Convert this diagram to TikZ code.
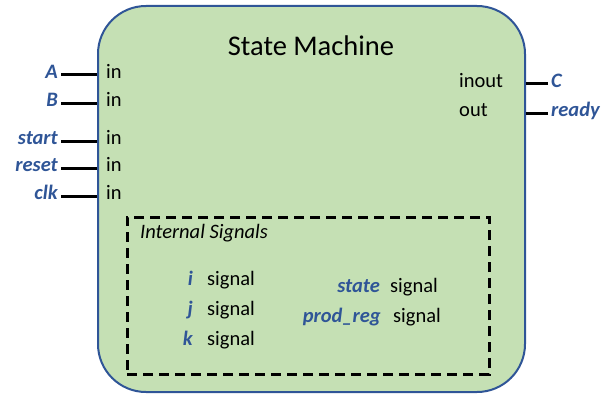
\documentclass[tikz,border=0pt]{standalone}
\usepackage{fontspec}
\setmainfont{Carlito}
\usetikzlibrary{positioning, calc}
\definecolor{smfill}{HTML}{C5E0B4}
\definecolor{smblue}{HTML}{2F5597}

\begin{document}
\begin{tikzpicture}[
  x=1pt, y=-1pt,
  machine/.style = {draw=smblue, line width=2pt, fill=smfill, rounded corners=48pt,
                    minimum width=427pt, minimum height=386pt, inner sep=0pt},
  title/.style   = {font=\fontsize{28.5}{30}\selectfont, inner sep=0pt},
  pname/.style   = {font=\fontsize{20.5}{22}\selectfont\bfseries\itshape, text=smblue,
                    text height=0.75em, text depth=0.1em, inner sep=3pt},
  pkind/.style   = {font=\fontsize{20.5}{22}\selectfont,
                    text height=0.75em, text depth=0.1em, inner sep=1pt},
  wire/.style    = {line width=3pt},
  region/.style  = {draw, line width=3pt, dash pattern=on 10pt off 6pt, inner sep=0pt},
]
\useasboundingbox (0,0) rectangle (608,396);

% ---------- entity body ----------
\node[machine] (sm) at (311.5,199) {};
\node[title]   (ttl) at (311,46) {State Machine};

% ---------- input ports ----------
\foreach \n/\y in {A/75,B/103,start/141,reset/168,clk/196}{
  \node[pname, anchor=east] (nm-\n) at (61,\y)  {\n};
  \node[pkind, anchor=west] (k-\n)  at (105,\y) {in};
  \draw[wire] (nm-\n.east) -- (nm-\n.east -| sm.west);
}

% ---------- output ports ----------
\foreach \n/\t/\y in {C/inout/84,ready/out/113}{
  \node[pname, anchor=west] (nm-\n) at (548,\y) {\n};
  \node[pkind, anchor=west] (k-\n)  at (458,\y) {\t};
  \draw[wire] (nm-\n.west) -- (nm-\n.west -| sm.east);
}

% ---------- internal signals ----------
\node[region, minimum width=362pt, minimum height=157pt] (intsig) at (308,295.5) {};
\node[pkind, font=\fontsize{20.5}{22}\selectfont\itshape, anchor=west] (isl) at (139,235) {Internal Signals};

\foreach \n/\y in {i/282,j/312,k/342}{
  \node[pname, anchor=east] (sn-\n) at (196,\y) {\n};
  \node[pkind, anchor=west] (sk-\n) at (206,\y) {signal};
}
\foreach \n/\t/\x/\y/\g in {state/state/383/289/389,prodreg/prod\_reg/384/319/392}{
  \node[pname, anchor=east] (sn-\n) at (\x,\y) {\t};
  \node[pkind, anchor=west] (sk-\n) at (\g,\y) {signal};
}

\end{tikzpicture}
\end{document}
